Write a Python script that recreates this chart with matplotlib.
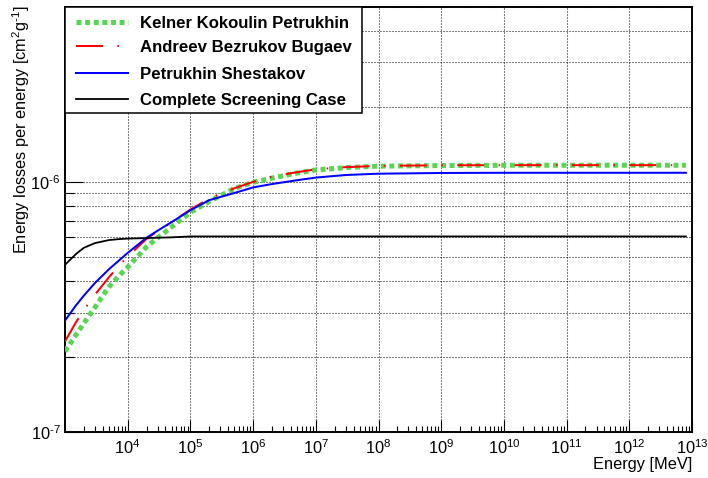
import matplotlib
matplotlib.use("Agg")
import matplotlib.pyplot as plt
from matplotlib.lines import Line2D
from matplotlib.patches import Rectangle
from matplotlib.ticker import FixedLocator, NullFormatter

plt.rcParams["font.family"] = ["Liberation Sans", "DejaVu Sans"]
plt.rcParams["mathtext.fontset"] = "custom"
plt.rcParams["mathtext.rm"] = "Liberation Sans"
plt.rcParams["mathtext.it"] = "Liberation Sans:italic"
plt.rcParams["mathtext.bf"] = "Liberation Sans:bold"
plt.rcParams["lines.scale_dashes"] = False

# Energy grid [MeV]
energy = [1e3, 1.5e3, 2e3, 3e3, 5e3, 7e3, 1e4, 2e4, 3e4, 5e4, 1e5, 2e5, 5e5,
          1e6, 2e6, 5e6, 1e7, 3e7, 1e8, 1e9, 1e10, 1e11, 1e12, 8e12]

# Energy losses per energy [1e-7 cm^2/g]
kelner = [2.10, 2.45, 2.72, 3.15, 3.80, 4.17, 4.56, 5.50, 5.97, 6.60, 7.55, 8.35, 9.40,
          9.95, 10.35, 10.84, 11.15, 11.40, 11.55, 11.62, 11.65, 11.65, 11.65, 11.65]
andreev = [2.30, 2.75, 3.07, 3.54, 4.15, 4.58, 5.03, 5.92, 6.35, 6.90, 7.75, 8.58, 9.42,
           10.00, 10.50, 10.93, 11.22, 11.45, 11.58, 11.65, 11.66, 11.66, 11.66, 11.66]
petrukhin = [2.79, 3.21, 3.51, 3.94, 4.47, 4.81, 5.20, 5.98, 6.38, 6.90, 7.70, 8.45, 9.02,
             9.50, 9.80, 10.15, 10.40, 10.65, 10.78, 10.85, 10.87, 10.87, 10.87, 10.87]
complete = [4.66, 5.15, 5.45, 5.69, 5.85, 5.90, 5.93, 5.96, 5.98, 6.00, 6.05, 6.05, 6.05,
            6.05, 6.05, 6.05, 6.05, 6.05, 6.05, 6.05, 6.05, 6.05, 6.05, 6.05]

labels = ["Kelner Kokoulin Petrukhin", "Andreev Bezrukov Bugaev",
          "Petrukhin Shestakov", "Complete Screening Case"]

x_major = [1e4, 1e5, 1e6, 1e7, 1e8, 1e9, 1e10, 1e11, 1e12, 1e13]
x_major_labels = [r"$10^{%d}$" % k for k in range(4, 14)]
y_major = [1e-7, 1e-6]
y_major_labels = [r"$10^{\text{-}7}$", r"$10^{\text{-}6}$"]

W, H = 708, 478
L, R, T, B = 65, 692, 7, 432
fig = plt.figure(figsize=(W / 100, H / 100), dpi=100)
ax = fig.add_axes([L / W, 1 - B / H, (R - L) / W, (B - T) / H])

ax.set_xscale("log")
ax.set_yscale("log")
ax.set_xlim(1e3, 1e13)
ax.set_ylim(1e-7, 5e-6)

scale = 1e-7
styles = [
    dict(color=(0.35, 0.83, 0.33), lw=3.6, dashes=(3.6, 2.6), solid_capstyle="butt"),
    dict(color="red", lw=1.45, dashes=(19.4, 10.4, 1.1, 10.4)),
    dict(color="blue", lw=1.45),
    dict(color="black", lw=1.3),
]
series = [kelner, andreev, petrukhin, complete]
for vals, st in zip(series, styles):
    ax.plot(energy, [v * scale for v in vals], dash_capstyle="butt", zorder=3, **st)

# Axes, ticks, grid
for s in ax.spines.values():
    s.set_linewidth(1.4)
ax.xaxis.set_major_locator(FixedLocator(x_major))
ax.xaxis.set_ticklabels(x_major_labels)
ax.xaxis.set_minor_locator(FixedLocator(
    [m * 10 ** e for e in range(3, 13) for m in range(2, 10)]))
ax.xaxis.set_minor_formatter(NullFormatter())
ax.yaxis.set_major_locator(FixedLocator(y_major))
ax.yaxis.set_ticklabels(y_major_labels)
ax.yaxis.set_minor_locator(FixedLocator(
    [m * 10 ** e for e in (-7, -6) for m in range(2, 10)]))
ax.yaxis.set_minor_formatter(NullFormatter())

ax.tick_params(axis="both", which="both", direction="in", top=False, right=False,
               width=0.8, labelsize=11.8, pad=3.2)
ax.tick_params(axis="x", which="major", length=8.5, pad=4.5)
ax.tick_params(axis="x", which="minor", length=4.5)
ax.tick_params(axis="y", which="major", length=13)
ax.tick_params(axis="y", which="minor", length=6.5)

grid_kw = dict(color="black", lw=0.75, linestyle=(0, (0.72, 1.44)))
ax.grid(True, axis="x", which="major", **grid_kw)
ax.grid(True, axis="y", which="both", **grid_kw)
ax.set_axisbelow(True)

ax.set_xlabel("Energy [MeV]", fontsize=11.8, loc="right")
ax.xaxis.set_label_coords(1.0, (B - 457) / (B - T))
ax.set_ylabel(r"Energy losses per energy [cm$^{2}$g$^{\text{-}1}$]", fontsize=11.8, loc="top")
ax.yaxis.set_label_coords((32 - L) / (R - L), 1.0 + 2 / (B - T))


def ax_x(px):
    return (px - L) / (R - L)


def ax_y(py):
    return (B - py) / (B - T)


# Legend box
box_right, box_bottom = 362, 113
ax.add_patch(Rectangle((0, ax_y(box_bottom)), ax_x(box_right), 1 - ax_y(box_bottom),
                       transform=ax.transAxes, facecolor="white", edgecolor="black",
                       lw=1.1, zorder=5, clip_on=False))
row_y = [21.7, 46.2, 73.2, 98.7]
for lab, st, ry in zip(labels, styles, row_y):
    ax.add_line(Line2D([ax_x(76), ax_x(128)], [ax_y(ry), ax_y(ry)],
                       transform=ax.transAxes, zorder=6, clip_on=False,
                       dash_capstyle="butt", **st))
    ax.text(ax_x(140), ax_y(ry), lab, transform=ax.transAxes, fontsize=12.1,
            fontweight="bold", va="center_baseline", ha="left", zorder=6)

fig.savefig("out.png", dpi=100)
